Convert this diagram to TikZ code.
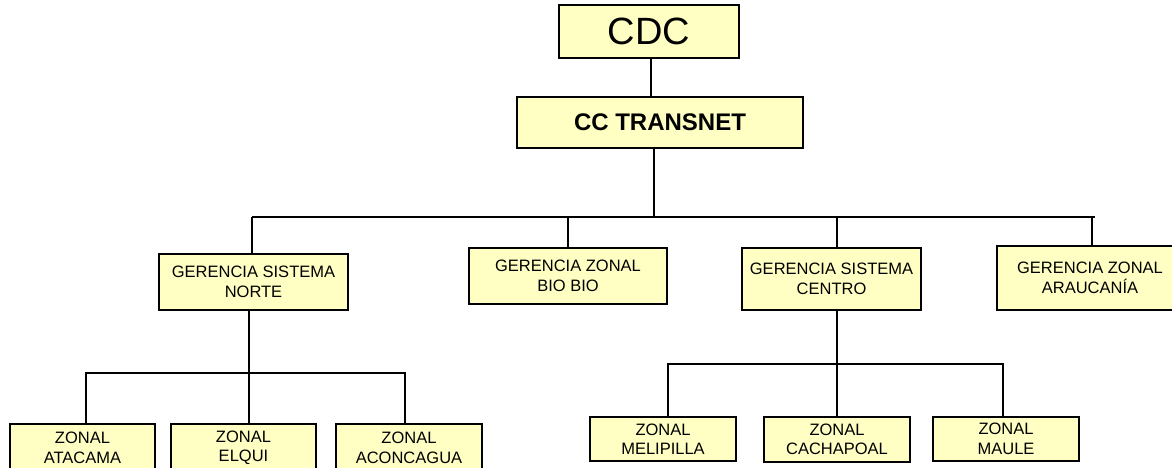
\documentclass[tikz,border=0pt]{standalone}
\usepackage{fontspec}
\setmainfont{Liberation Sans}
\definecolor{boxfill}{RGB}{255,255,196}
\begin{document}
\begin{tikzpicture}[x=1pt,y=-1pt,
  orgbox/.style={draw=black,line width=1.4pt,fill=boxfill,rectangle,inner sep=0pt,align=center,
    font=\fontsize{16.5}{19.5}\selectfont},
  link/.style={draw=black,line width=1.4pt}]
\useasboundingbox (0,0) rectangle (1172,468);
\fill[white] (0,0) rectangle (1172,468);
% nodes
\node[orgbox,minimum width=180pt,minimum height=53pt,font=\fontsize{38}{40}\selectfont] (cdc) at (649,31.5) {CDC};
\node[orgbox,minimum width=286pt,minimum height=51pt,font=\bfseries\fontsize{24}{26}\selectfont] (cc) at (660,122.5) {CC TRANSNET};
\node[orgbox,minimum width=189pt,minimum height=56pt] (norte) at (253.5,282) {GERENCIA SISTEMA\\NORTE};
\node[orgbox,minimum width=198pt,minimum height=56pt] (bio) at (568,276) {GERENCIA ZONAL\\BIO BIO};
\node[orgbox,minimum width=179pt,minimum height=62pt] (centro) at (831.5,279) {GERENCIA SISTEMA\\CENTRO};
\node[orgbox,minimum width=186pt,minimum height=64pt] (arauc) at (1090,278) {GERENCIA ZONAL\\ARAUCAN\'IA};
\node[orgbox,minimum width=145pt,minimum height=48pt] (atacama) at (82.5,448) {ZONAL\\ATACAMA};
\node[orgbox,minimum width=145pt,minimum height=48pt] (elqui) at (243.5,448) {ZONAL\\ELQUI};
\node[orgbox,minimum width=146pt,minimum height=48pt] (aconc) at (409,448) {ZONAL\\ACONCAGUA};
\node[orgbox,minimum width=146pt,minimum height=44pt] (meli) at (663,439) {ZONAL\\MELIPILLA};
\node[orgbox,minimum width=146pt,minimum height=45pt] (cacha) at (837,439.5) {ZONAL\\CACHAPOAL};
\node[orgbox,minimum width=146pt,minimum height=44pt] (maule) at (1006,439) {ZONAL\\MAULE};
% junction coordinates
\coordinate (j0) at (654,217);
\coordinate (jl) at (252,217);
\coordinate (jr) at (1095,217);
\coordinate (jbio) at (568,217);
\coordinate (jcen) at (837,217);
\coordinate (jara) at (1092,217);
\coordinate (kn) at (249,373);
\coordinate (kl) at (85,373);
\coordinate (kr) at (406,373);
\coordinate (ka) at (86,373);
\coordinate (kc) at (405,373);
\coordinate (mc) at (837,364);
\coordinate (ml) at (667,364);
\coordinate (mr) at (1004,364);
\coordinate (mm) at (668,364);
\coordinate (mu) at (1003,364);
% connectors
\draw[link] (cdc.south -| 651,0) -- (cc.north -| 651,0);
\draw[link] (cc.south -| j0) -- (j0);
\draw[link] (jl) -- (jr);
\draw[link] (jl) -- (norte.north -| jl);
\draw[link] (jbio) -- (bio.north -| jbio);
\draw[link] (jcen) -- (centro.north -| jcen);
\draw[link] (jara) -- (arauc.north -| jara);
\draw[link] (norte.south -| kn) -- (elqui.north -| kn);
\draw[link] (kl) -- (kr);
\draw[link] (ka) -- (atacama.north -| ka);
\draw[link] (kc) -- (aconc.north -| kc);
\draw[link] (centro.south -| mc) -- (cacha.north -| mc);
\draw[link] (ml) -- (mr);
\draw[link] (mm) -- (meli.north -| mm);
\draw[link] (mu) -- (maule.north -| mu);
\end{tikzpicture}
\end{document}
